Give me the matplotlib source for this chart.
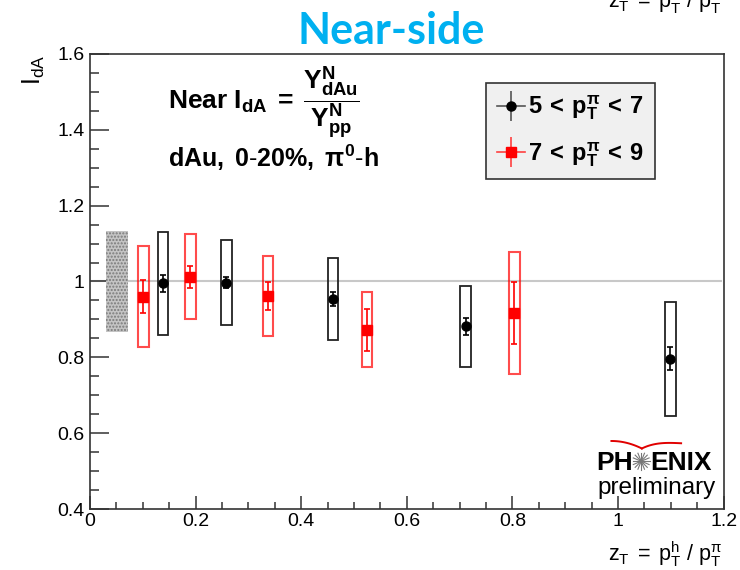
import numpy as np
import matplotlib.pyplot as plt
from matplotlib.lines import Line2D

plt.rcParams['font.family'] = ['Liberation Sans', 'DejaVu Sans']
plt.rcParams['mathtext.fontset'] = 'custom'
plt.rcParams['mathtext.rm'] = 'Liberation Sans'
plt.rcParams['mathtext.it'] = 'Liberation Sans'
plt.rcParams['mathtext.bf'] = 'Liberation Sans:bold'

# 5 < pT(pi) < 7 (black circles)
zt_lo = [0.138, 0.2585, 0.460, 0.7115, 1.099]
ida_lo = [0.995, 0.997, 0.954, 0.882, 0.796]
stat_lo = [0.022, 0.015, 0.018, 0.023, 0.030]
sys_lo = [0.136, 0.113, 0.109, 0.107, 0.150]

# 7 < pT(pi) < 9 (red squares)
zt_hi = [0.101, 0.190, 0.337, 0.525, 0.804]
ida_hi = [0.960, 1.013, 0.962, 0.873, 0.917]
stat_hi = [0.044, 0.029, 0.037, 0.055, 0.081]
sys_hi = [0.134, 0.112, 0.106, 0.098, 0.161]

# global normalisation uncertainty box
norm_x = 0.051
norm_w = 0.042
norm_err = 0.134

lab_lo = r'$\mathbf{5\:<\:p_{T}^{\pi}\:<\:7}$'
lab_hi = r'$\mathbf{7\:<\:p_{T}^{\pi}\:<\:9}$'
zt_label = r'$\mathrm{z_{T}\;=\;p_{T}^{h}\ /\ p_{T}^{\pi}}$'

fig = plt.figure(figsize=(7.4, 5.7), dpi=100)
ax = fig.add_axes([0.1216, 0.107, 0.8562, 0.7983])

ax.set_xlim(0, 1.2)
ax.set_ylim(0.4, 1.6)

ax.axhline(1.0, xmin=0, xmax=0.996, color='#c8c8c8', lw=1.5, zorder=1)

ax.bar(norm_x, 2*norm_err, bottom=1-norm_err, width=norm_w, color='#c4c4c4',
       hatch='.....', edgecolor='#7a7a7a', linewidth=0, zorder=2)

# systematic boxes
ax.bar(zt_lo, 2*np.array(sys_lo), bottom=np.array(ida_lo)-np.array(sys_lo), width=0.02,
       fill=False, edgecolor='#222222', linewidth=1.3, zorder=3)
ax.bar(zt_hi, 2*np.array(sys_hi), bottom=np.array(ida_hi)-np.array(sys_hi), width=0.02,
       fill=False, edgecolor=(1, 0, 0, 0.7), linewidth=1.5, zorder=3)

# stat errors
ax.errorbar(zt_lo, ida_lo, yerr=stat_lo, fmt='o', color='k', ms=6.5, capsize=2.5,
            elinewidth=1.2, capthick=1.2, zorder=4)
ax.errorbar(zt_hi, ida_hi, yerr=stat_hi, fmt='s', color='#ff0000', ms=6.5, capsize=2.5,
            elinewidth=1.2, capthick=1.2, zorder=4)

# axes style (ROOT-like)
ax.set_xticks(np.arange(0, 1.21, 0.2))
ax.set_xticks(np.arange(0, 1.21, 0.05), minor=True)
ax.set_yticks(np.arange(0.4, 1.61, 0.2))
ax.set_yticks(np.arange(0.4, 1.61, 0.05), minor=True)
ax.set_xticklabels(['0', '0.2', '0.4', '0.6', '0.8', '1', '1.2'])
ax.set_yticklabels(['0.4', '0.6', '0.8', '1', '1.2', '1.4', '1.6'])
ax.tick_params(axis='both', which='both', direction='in', top=False, right=False,
               labelsize=14, width=1.1, color='#333333')
ax.tick_params(axis='y', which='major', length=13.7, pad=4)
ax.tick_params(axis='y', which='minor', length=6.8)
ax.tick_params(axis='x', which='major', length=9.4, pad=3)
ax.tick_params(axis='x', which='minor', length=4.9)
for s in ax.spines.values():
    s.set_linewidth(1.2)
    s.set_color('#333333')

ax.set_xlabel(zt_label, fontsize=15.5, loc='right')
ax.xaxis.set_label_coords(0.9975, -0.066)
ax.set_ylabel(r'$\mathrm{I_{dA}}$', fontsize=18, loc='top')
ax.yaxis.set_label_coords(-0.068, 1.0)

# clipped label from the panel above
fig.text(0.9757, 0.972, zt_label, fontsize=15.5, ha='right', va='bottom')

fig.text(0.528, 0.946, 'Near-side', fontsize=31, fontweight='bold', color='#00b0f0',
         family='Lato', ha='center', va='center')

ax.text(0.123, 0.892, r'$\mathbf{Near\ I_{dA}\;=\;\dfrac{Y^{N}_{dAu}}{Y^{N}_{pp}}}$',
        transform=ax.transAxes, fontsize=19, ha='left', va='center')
ax.text(0.123, 0.752, r'$\mathbf{dAu,\ 0\text{-}20\%,\ \pi^{0}\text{-}h}$',
        transform=ax.transAxes, fontsize=18, ha='left', va='baseline')

h_lo = (Line2D([], [], color='#555555', lw=1.2),
        Line2D([], [], color='#555555', ls='none', marker='|', ms=22, mew=1.2),
        Line2D([], [], color='k', ls='none', marker='o', ms=6.5))
h_hi = (Line2D([], [], color='#ff4040', lw=1.2),
        Line2D([], [], color='#ff4040', ls='none', marker='|', ms=22, mew=1.2),
        Line2D([], [], color='#ff0000', ls='none', marker='s', ms=6.5))
leg = ax.legend([h_lo, h_hi], [lab_lo, lab_hi], loc='upper left',
                bbox_to_anchor=(0.625, 0.936), borderaxespad=0, fontsize=17,
                fancybox=False, framealpha=1, facecolor='#f0f0f0', edgecolor='#333333',
                handlelength=1.2, handletextpad=0.15, labelspacing=0.75, borderpad=0.45)
leg.get_frame().set_linewidth(1.2)

# PHENIX preliminary logo
ax.text(0.857, 0.0857, 'PH', transform=ax.transAxes, fontsize=19, fontweight='bold',
        ha='right', va='baseline')
ax.text(0.884, 0.0857, 'ENIX', transform=ax.transAxes, fontsize=19, fontweight='bold',
        ha='left', va='baseline')
cx, cy = 0.870, 0.105
for a in np.linspace(0, np.pi, 8, endpoint=False):
    ax.plot([cx - 0.0135*np.cos(a), cx + 0.0135*np.cos(a)],
            [cy - 0.019*np.sin(a), cy + 0.019*np.sin(a)],
            transform=ax.transAxes, color='#777777', lw=0.8, clip_on=False)
t = np.linspace(0, 1, 30)
ax.plot(0.823 + 0.048*t, 0.1495 - 0.0165*t**2, transform=ax.transAxes, color='#e00000', lw=1.4)
ax.plot(0.871 + 0.062*t, 0.133 + 0.0155*(1-(1-t)**3) - 0.004*t, transform=ax.transAxes,
        color='#e00000', lw=1.4)
ax.text(0.894, 0.033, 'preliminary', transform=ax.transAxes, fontsize=17.5,
        ha='center', va='baseline')

fig.savefig('out.png', dpi=100)
